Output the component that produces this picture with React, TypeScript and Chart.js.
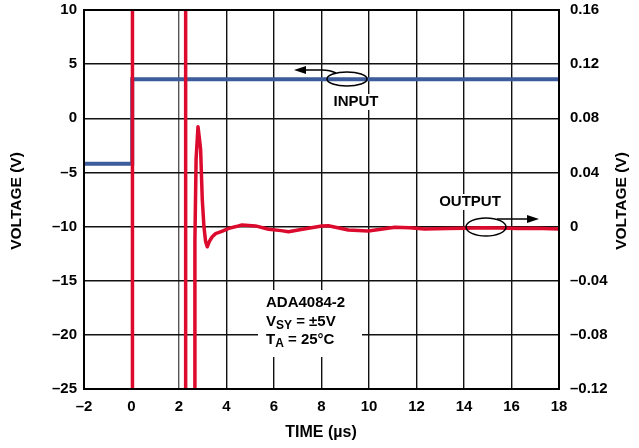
import React, { useEffect, useRef } from "react";
import { Chart, registerables } from "chart.js";

Chart.register(...registerables);

// ---- Data ----
const inputTime = [-2, 0.03, 0.03, 18];
const inputVolts = [-4.2, -4.2, 3.6, 3.6];

const outputTime = [
  0.04, 0.04, 2.28, 2.28, 2.65, 2.67, 2.72, 2.8, 2.86, 2.91, 2.98, 3.05, 3.12, 3.19,
  3.28, 3.4, 3.54, 3.8, 4.1, 4.4, 4.65, 5.22, 5.77, 6.3, 6.61, 7.2, 8.01, 8.29, 9.13,
  9.97, 10.5, 11.09, 11.7, 12.34, 13.32, 14.0, 14.86, 15.5, 16.26, 17.0, 18.0,
];
const outputVolts = [
  -0.2, 0.3, 0.3, -0.2, -0.2, -0.01, 0.05, 0.0738, 0.065, 0.057, 0.02, 0.0, -0.011,
  -0.0149, -0.011, -0.0075, -0.0052, -0.0035, -0.0013, 0.0, 0.0012, 0.0005, -0.002,
  -0.003, -0.0038, -0.002, 0.0004, 0.0006, -0.0025, -0.0032, -0.002, -0.0005, -0.0008,
  -0.0018, -0.0014, -0.0012, -0.0008, -0.001, -0.0014, -0.0012, -0.0018,
];

const xTicksMin = -2;
const xTicksMax = 18;
const xStep = 2;
const leftMin = -25;
const leftMax = 10;
const leftStep = 5;
const rightMin = -0.12;
const rightMax = 0.16;
const rightStep = 0.04;

const FONT = '"Liberation Sans", Arial, Helvetica, sans-serif';
const RED = "#dc0a2d";
const BLUE = "#3d5c9c";

function fmtNum(v: number, digits: number): string {
  if (Math.abs(v) < 1e-9) return "0";
  const s = Math.abs(v).toFixed(digits);
  return v < 0 ? "\u2013" + s : s;
}

const annotationPlugin = {
  id: "annots",
  afterDatasetsDraw(chart: any) {
    const ctx = chart.ctx as CanvasRenderingContext2D;
    const a = chart.chartArea;
    ctx.save();
    // border
    ctx.strokeStyle = "#000";
    ctx.lineWidth = 2;
    ctx.strokeRect(a.left, a.top, a.right - a.left, a.bottom - a.top);

    ctx.fillStyle = "#000";
    ctx.textBaseline = "middle";

    // INPUT label
    ctx.font = `bold 15px ${FONT}`;
    ctx.textAlign = "center";
    let w = ctx.measureText("INPUT").width;
    ctx.fillStyle = "#fff";
    ctx.fillRect(356 - w / 2 - 2, 94, w + 4, 16);
    ctx.fillStyle = "#000";
    ctx.fillText("INPUT", 356, 102);
    // ellipse
    ctx.lineWidth = 1.5;
    ctx.beginPath();
    ctx.ellipse(347, 79, 20, 7, 0, 0, Math.PI * 2);
    ctx.stroke();
    // arrow left
    ctx.beginPath();
    ctx.moveTo(336, 73);
    ctx.quadraticCurveTo(330, 70, 322, 70);
    ctx.lineTo(300, 70);
    ctx.stroke();
    ctx.beginPath();
    ctx.moveTo(294, 70);
    ctx.lineTo(306, 66);
    ctx.lineTo(306, 74);
    ctx.closePath();
    ctx.fill();

    // OUTPUT label
    w = ctx.measureText("OUTPUT").width;
    ctx.fillStyle = "#fff";
    ctx.fillRect(470 - w / 2 - 2, 194, w + 4, 16);
    ctx.fillStyle = "#000";
    ctx.fillText("OUTPUT", 470, 202);
    ctx.beginPath();
    ctx.ellipse(486, 227, 20, 9, 0, 0, Math.PI * 2);
    ctx.stroke();
    ctx.beginPath();
    ctx.moveTo(497, 219);
    ctx.lineTo(530, 219);
    ctx.stroke();
    ctx.beginPath();
    ctx.moveTo(539, 219);
    ctx.lineTo(527, 215);
    ctx.lineTo(527, 223);
    ctx.closePath();
    ctx.fill();

    // Conditions box
    ctx.fillStyle = "#fff";
    ctx.fillRect(258, 290, 104, 67);
    ctx.fillStyle = "#000";
    ctx.textAlign = "left";
    ctx.font = `bold 15px ${FONT}`;
    ctx.fillText("ADA4084-2", 266, 303);
    // V_SY = ±5V
    let x = 266;
    ctx.fillText("V", x, 322);
    x += ctx.measureText("V").width;
    ctx.font = `bold 12px ${FONT}`;
    ctx.fillText("SY", x, 326);
    x += ctx.measureText("SY").width;
    ctx.font = `bold 15px ${FONT}`;
    ctx.fillText(" = \u00b15V", x, 322);
    // T_A = 25°C
    x = 266;
    ctx.fillText("T", x, 340);
    x += ctx.measureText("T").width;
    ctx.font = `bold 12px ${FONT}`;
    ctx.fillText("A", x, 344);
    x += ctx.measureText("A").width;
    ctx.font = `bold 15px ${FONT}`;
    ctx.fillText(" = 25\u00b0C", x, 340);

    // axis titles
    ctx.font = `bold 16px ${FONT}`;
    ctx.textAlign = "center";
    ctx.fillText("TIME (\u00b5s)", 321, 433);
    const cy = 201;
    ctx.font = `bold 15.5px ${FONT}`;
    ctx.save();
    ctx.translate(17, cy);
    ctx.rotate(-Math.PI / 2);
    ctx.fillText("VOLTAGE (V)", 0, 0);
    ctx.restore();
    ctx.save();
    ctx.translate(622, cy);
    ctx.rotate(-Math.PI / 2);
    ctx.fillText("VOLTAGE (V)", 0, 0);
    ctx.restore();

    ctx.restore();
  },
};

function fixVertical(width: number) {
  return (s: any) => {
    s.width = width;
    s.paddingTop = 0;
    s.paddingBottom = 0;
  };
}

export default function App() {
  const canvasRef = useRef<HTMLCanvasElement | null>(null);

  useEffect(() => {
    document.body.style.margin = "0";
    const canvas = canvasRef.current;
    if (!canvas) return;
    const chart = new Chart(canvas, {
      type: "line",
      data: {
        datasets: [
          {
            label: "OUTPUT",
            data: outputTime.map((t, i) => ({ x: t, y: outputVolts[i] })),
            yAxisID: "y2",
            borderColor: RED,
            borderWidth: 3.5,
            pointRadius: 0,
            tension: 0,
            borderJoinStyle: "round",
            borderCapStyle: "round",
          },
          {
            label: "INPUT",
            data: inputTime.map((t, i) => ({ x: t, y: inputVolts[i] })),
            yAxisID: "y",
            borderColor: BLUE,
            borderWidth: 4,
            pointRadius: 0,
            tension: 0,
          },
        ],
      },
      options: {
        animation: false,
        responsive: false,
        events: [],
        layout: { padding: { top: 10, left: 0, right: 0, bottom: 0 } },
        plugins: { legend: { display: false }, tooltip: { enabled: false } },
        scales: {
          x: {
            type: "linear",
            min: xTicksMin,
            max: xTicksMax,
            afterFit: (s: any) => {
              s.height = 59;
              s.paddingLeft = 0;
              s.paddingRight = 0;
            },
            ticks: {
              stepSize: xStep,
              padding: 9,
              color: "#000",
              font: { family: FONT, size: 15, weight: "bold" },
              callback: (v: any) => fmtNum(Number(v), 0),
            },
            grid: {
              drawTicks: false,
              color: (c: any) => (c.tick && c.tick.value === 2 ? "#555" : "#111"),
              lineWidth: 1.4,
            },
            border: { display: false },
          },
          y: {
            type: "linear",
            position: "left",
            min: leftMin,
            max: leftMax,
            afterFit: fixVertical(84),
            ticks: {
              stepSize: leftStep,
              padding: 7,
              color: "#000",
              font: { family: FONT, size: 15, weight: "bold" },
              callback: (v: any) => fmtNum(Number(v), 0),
            },
            grid: { drawTicks: false, color: "#111", lineWidth: 1.4 },
            border: { display: false },
          },
          y2: {
            type: "linear",
            position: "right",
            min: rightMin,
            max: rightMax,
            afterFit: fixVertical(80),
            ticks: {
              stepSize: rightStep,
              padding: 11,
              color: "#000",
              font: { family: FONT, size: 15, weight: "bold" },
              callback: (v: any) => fmtNum(Number(v), 2),
            },
            grid: { drawOnChartArea: false, drawTicks: false },
            border: { display: false },
          },
        },
      },
      plugins: [annotationPlugin],
    } as any);
    return () => chart.destroy();
  }, []);

  return (
    <div style={{ width: 639, height: 448, position: "relative" }}>
      <canvas ref={canvasRef} width={639} height={448} style={{ display: "block" }} />
    </div>
  );
}
